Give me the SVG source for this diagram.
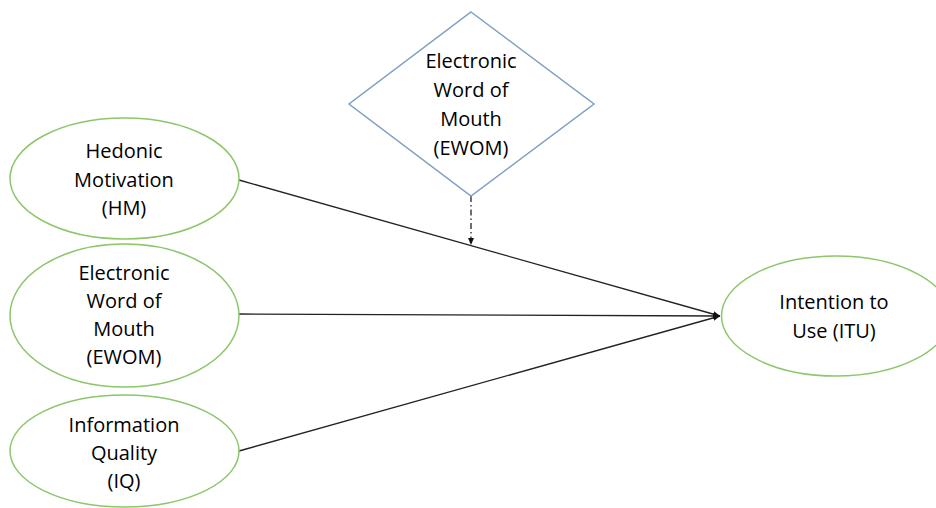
<svg xmlns="http://www.w3.org/2000/svg" width="936" height="508" viewBox="0 0 936 508">
<style>
.ell{fill:#fff;stroke:#8dc66b;stroke-width:1.5}
.dia{fill:#fff;stroke:#7f9fc2;stroke-width:1.5}
.t{font-family:"Open Sans","Liberation Sans",sans-serif;font-size:20px;fill:#000;text-anchor:middle}
.c{stroke:#222;stroke-width:1.3;fill:none}
</style>
<defs>
<marker id="ah" markerWidth="8" markerHeight="8" refX="7" refY="4" orient="auto" markerUnits="userSpaceOnUse">
<path d="M0,1 L7,4 L0,7 Z" fill="#111"/>
</marker>
</defs>
<rect width="936" height="508" fill="#fff"/>
<g id="connectors">
<line class="c" x1="239" y1="180" x2="720" y2="316" marker-end="url(#ah)"/>
<line class="c" x1="239" y1="314" x2="720" y2="316" marker-end="url(#ah)"/>
<line class="c" x1="239" y1="451" x2="720" y2="316" marker-end="url(#ah)"/>
<line class="c" x1="471" y1="196" x2="471" y2="245" stroke-dasharray="6,3,1.5,3" marker-end="url(#ah)"/>
</g>
<g id="moderator">
<polygon class="dia" points="471,12 594,104 471,196 349,104"/>
<text class="t" x="471" y="68">Electronic</text>
<text class="t" x="471" y="97">Word of</text>
<text class="t" x="471" y="126">Mouth</text>
<text class="t" x="471" y="155">(EWOM)</text>
</g>
<g id="hm">
<ellipse class="ell" cx="124.5" cy="178.5" rx="114.5" ry="60.5"/>
<text class="t" x="124" y="158">Hedonic</text>
<text class="t" x="124" y="187">Motivation</text>
<text class="t" x="124" y="215">(HM)</text>
</g>
<g id="ewom">
<ellipse class="ell" cx="124.5" cy="315.5" rx="114.5" ry="71.5"/>
<text class="t" x="124" y="280">Electronic</text>
<text class="t" x="124" y="308">Word of</text>
<text class="t" x="124" y="336">Mouth</text>
<text class="t" x="124" y="364">(EWOM)</text>
</g>
<g id="iq">
<ellipse class="ell" cx="124.5" cy="451" rx="114.5" ry="56"/>
<text class="t" x="124" y="432">Information</text>
<text class="t" x="124" y="460">Quality</text>
<text class="t" x="124" y="488">(IQ)</text>
</g>
<g id="itu">
<ellipse class="ell" cx="836" cy="316" rx="114.5" ry="60"/>
<text class="t" x="834" y="309">Intention to</text>
<text class="t" x="834" y="338">Use (ITU)</text>
</g>
</svg>
